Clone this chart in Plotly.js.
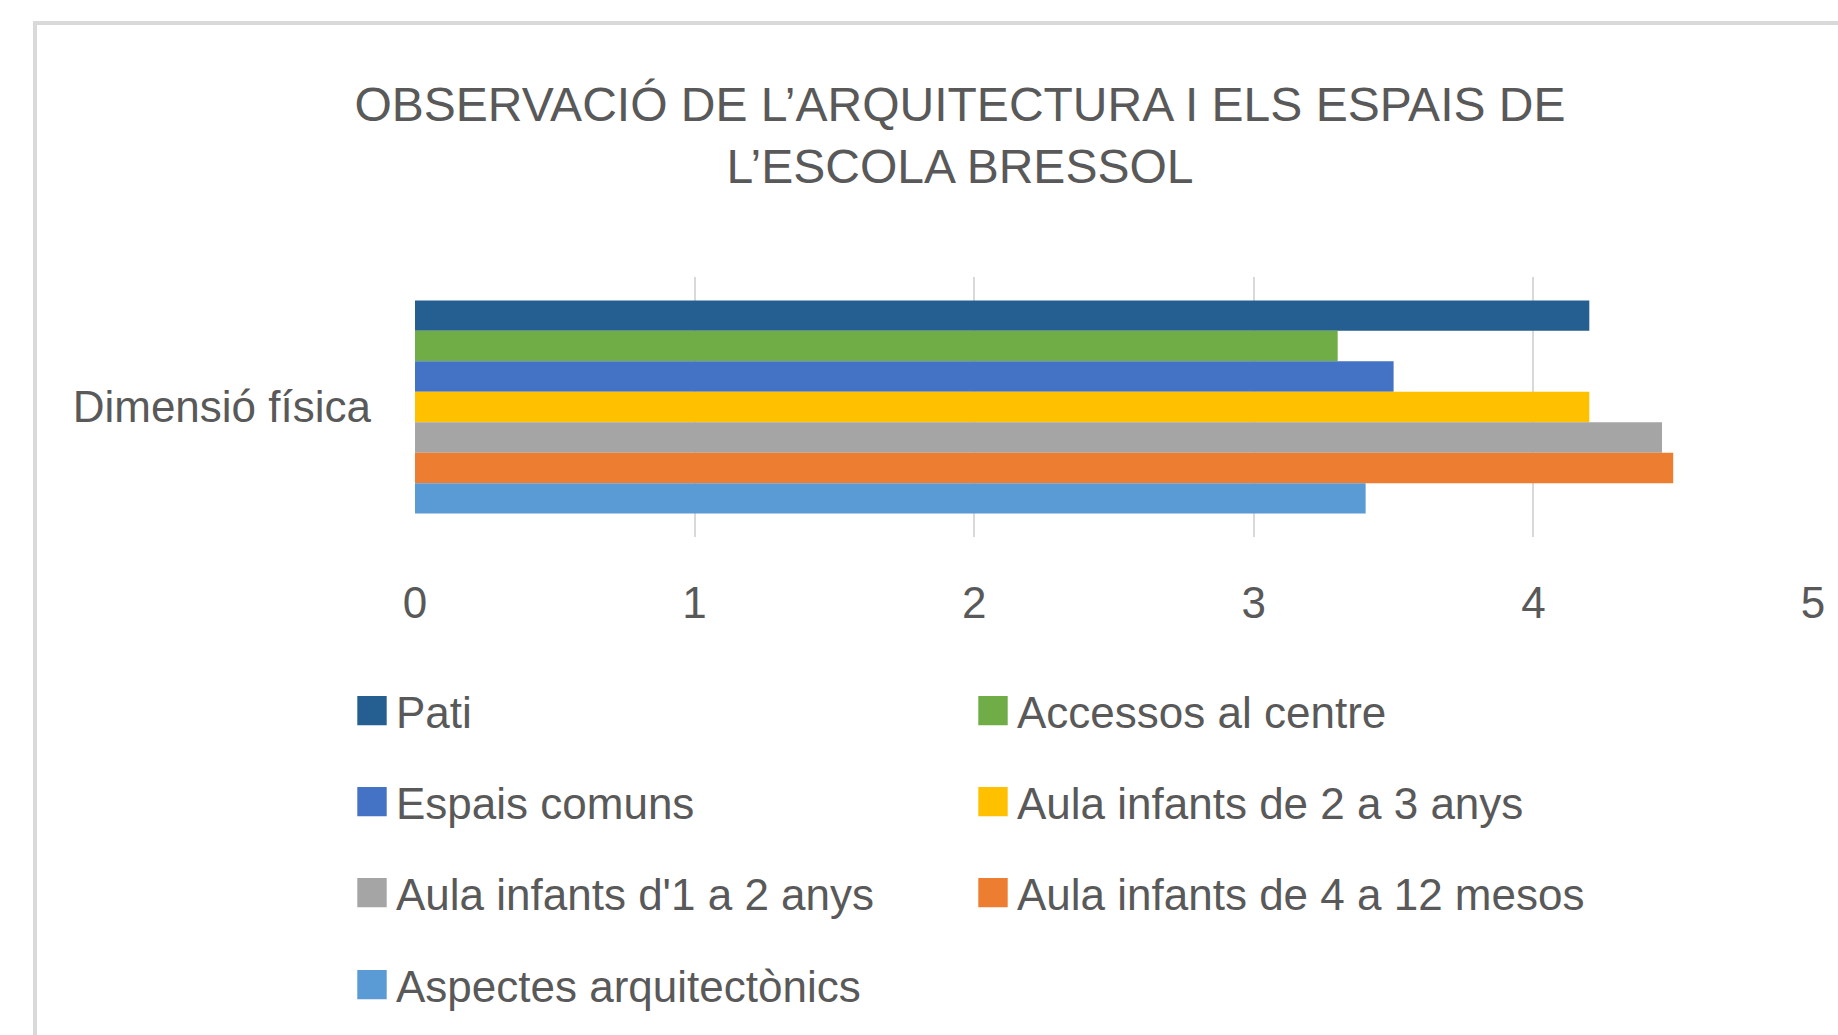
<!DOCTYPE html>
<html>
<head>
<meta charset="utf-8">
<script src="https://cdn.plot.ly/plotly-3.0.1.min.js"></script>
<style>
  html, body { margin: 0; padding: 0; background: #ffffff; }
  #wrap { position: relative; width: 1838px; height: 1035px; overflow: hidden; }
  #chart { position: absolute; left: 0; top: 0; width: 1838px; height: 1035px; }
  #frame { position: absolute; left: 33px; top: 21px; width: 1900px; height: 1100px;
           border: 4px solid #d9d9d9; pointer-events: none; }
</style>
</head>
<body>
<div id="wrap">
  <div id="chart"></div>
  <div id="frame"></div>
</div>
<script>
// ---- data ----
const categories = ["Dimensió física"];
const seriesNames = [
  "Pati",
  "Accessos al centre",
  "Espais comuns",
  "Aula infants de 2 a 3 anys",
  "Aula infants d'1 a 2 anys",
  "Aula infants de 4 a 12 mesos",
  "Aspectes arquitectònics"
];
const seriesValues = [4.2, 3.3, 3.5, 4.2, 4.46, 4.5, 3.4];
const seriesColors = ["#255E91", "#70AD47", "#4472C4", "#FFC000", "#A5A5A5", "#ED7D31", "#5B9BD5"];
const xTickValues = [0, 1, 2, 3, 4, 5];
const titleText = "OBSERVACIÓ DE L’ARQUITECTURA I ELS ESPAIS DE<br>L’ESCOLA BRESSOL";

// legend rows (two entries per row)
const legendRowOf = [1, 1, 2, 2, 3, 3, 4];

const textColor = "#595959";
const baseFont = "Liberation Sans, Arial, sans-serif";

const traces = seriesNames.map((name, i) => ({
  type: "bar",
  orientation: "h",
  name: name,
  y: categories,
  x: [seriesValues[i]],
  marker: { color: seriesColors[i] },
  legend: legendRowOf[i] === 1 ? "legend" : "legend" + legendRowOf[i],
  hoverinfo: "x+name"
}));

const plotL = 415, plotR = 1813, plotT = 277, plotB = 537;
const W = 1838, H = 1035;
const plotW = plotR - plotL, plotH = plotB - plotT;

function legendAt(yPx) {
  return {
    orientation: "h",
    x: (356 - plotL) / plotW,
    xanchor: "left",
    y: (plotB - yPx) / plotH,
    yanchor: "middle",
    entrywidth: 576,
    entrywidthmode: "pixels",
    font: { family: baseFont, size: 44, color: textColor },
    bgcolor: "rgba(0,0,0,0)",
    traceorder: "normal"
  };
}

const layout = {
  width: W,
  height: H,
  paper_bgcolor: "#ffffff",
  plot_bgcolor: "#ffffff",
  margin: { l: plotL, r: W - plotR, t: plotT, b: H - plotB, pad: 0 },
  title: {
    text: titleText,
    font: { family: baseFont, size: 48, color: textColor },
    x: 960 / W,
    xref: "container",
    xanchor: "center",
    y: 1 - 121 / H,
    yref: "container",
    yanchor: "top"
  },
  barmode: "group",
  bargap: 0.18,
  bargroupgap: 0,
  xaxis: {
    range: [0, 5],
    tickvals: xTickValues,
    ticktext: xTickValues.map(String),
    showgrid: true,
    gridcolor: "#d9d9d9",
    gridwidth: 2,
    zeroline: false,
    showline: false,
    ticks: "",
    ticklabelstandoff: 36,
    tickfont: { family: baseFont, size: 44, color: textColor },
    fixedrange: true
  },
  yaxis: {
    autorange: "reversed",
    showgrid: false,
    zeroline: false,
    showline: false,
    ticks: "",
    ticklabelstandoff: 43,
    tickfont: { family: baseFont, size: 44, color: textColor },
    fixedrange: true
  },
  legend: legendAt(711),
  legend2: legendAt(802),
  legend3: legendAt(893),
  legend4: legendAt(985),
  showlegend: true
};

Plotly.newPlot("chart", traces, layout, { displayModeBar: false, staticPlot: true }).then(() => {
  // enlarge legend swatches to match the Excel-style square keys
  document.querySelectorAll("#chart .legendpoints path").forEach(p => {
    const t = p.getAttribute("transform") || "";
    p.setAttribute("transform", t + " translate(-4,0) scale(2.45)");
  });
});
</script>
</body>
</html>
